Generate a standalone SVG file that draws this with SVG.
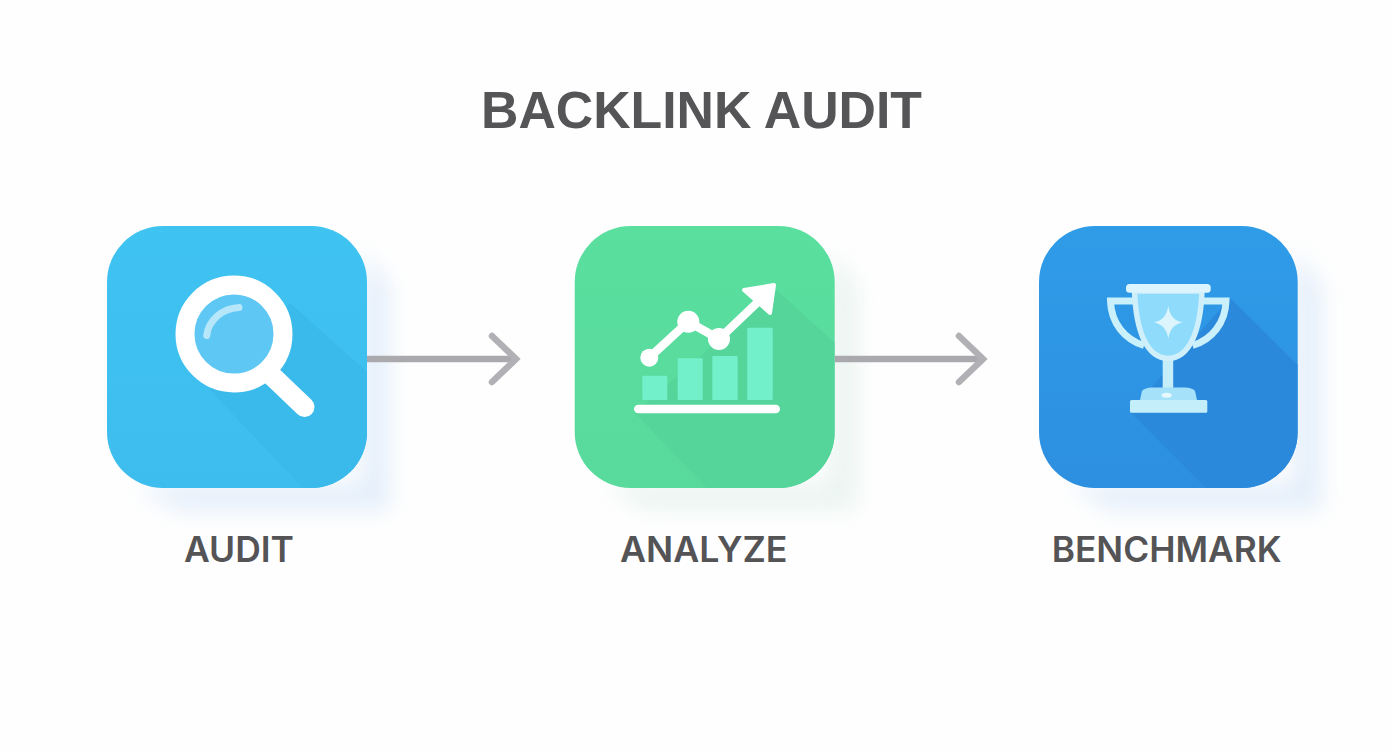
<svg xmlns="http://www.w3.org/2000/svg" width="1392" height="752" viewBox="0 0 1392 752">
<style>
.bg{fill:#fefefe}
.title{font:700 52px "Liberation Sans",Arial,sans-serif;fill:#555557}
.label{font:600 35px Inter,"Liberation Sans",Arial,sans-serif;fill:#545456}
.conn{fill:none;stroke:#aaaaae;stroke-width:6.5;marker-end:url(#chev)}
.soft{filter:url(#blur)}
.lens{fill:none;stroke:#fff;stroke-width:19}
.wh{fill:#fff}
.bar{fill:#72f0c9}
.tl{fill:none;stroke:#c9f0fb;stroke-width:7}
.tf{fill:#c5eefb}
</style>
<defs>
<filter id="blur" x="-30%" y="-30%" width="160%" height="160%"><feGaussianBlur stdDeviation="11"/></filter>
<marker id="chev" markerUnits="userSpaceOnUse" markerWidth="44" markerHeight="64" viewBox="0 0 44 64" refX="36" refY="32" orient="auto">
<path d="M11,9 L35,32 L11,55" fill="none" stroke="#b1b1b5" stroke-width="6.5" stroke-linecap="round" stroke-linejoin="miter"/>
</marker>
<path id="cast" d="M255,24 L282,60 L282,284 L70,284 L30,258 L255,258 Z"/>
<linearGradient id="g1" x1="0" y1="0" x2="0" y2="1"><stop offset="0" stop-color="#3fc3f1"/><stop offset="1" stop-color="#3dbdee"/></linearGradient>
<linearGradient id="g2" x1="0" y1="0" x2="0" y2="1"><stop offset="0" stop-color="#5adf9f"/><stop offset="1" stop-color="#58da9d"/></linearGradient>
<linearGradient id="g3" x1="0" y1="0" x2="0" y2="1"><stop offset="0" stop-color="#2f9ce8"/><stop offset="1" stop-color="#2d8fe0"/></linearGradient>
<clipPath id="c1"><rect x="107" y="226" width="260" height="262" rx="56"/></clipPath>
<clipPath id="c2"><rect x="574.7" y="226" width="260" height="262" rx="56"/></clipPath>
<clipPath id="c3"><rect x="1039" y="226" width="258.7" height="262" rx="56"/></clipPath>
</defs>
<rect class="bg" width="1392" height="752"/>
<g id="title"><text class="title" x="481" y="127.700" textLength="441" lengthAdjust="spacingAndGlyphs">BACKLINK AUDIT</text></g>
<g id="node-audit">
<use href="#cast" x="107" y="226" class="soft" fill="#c4dcf6" opacity=".45"/>
<rect x="107" y="226" width="260" height="262" rx="56" fill="url(#g1)"/>
<path clip-path="url(#c1)" d="M290,303 L367,372 V488 H303 L210,390 Z" fill="#3ab9eb"/>
<circle cx="234" cy="334" r="40" fill="#5fc7f3"/>
<path d="M206.700,335.500 C208.500,320 222,308.500 239,307.500" fill="none" stroke="#b5e6fa" stroke-width="7" stroke-linecap="round"/>
<circle class="lens" cx="234" cy="334" r="49"/>
<line x1="270" y1="374" x2="304.500" y2="407" stroke="#fff" stroke-width="20" stroke-linecap="round"/>
<text class="label" x="184" y="562.300" textLength="110" lengthAdjust="spacingAndGlyphs">AUDIT</text>
</g>
<g id="node-analyze">
<use href="#cast" x="574.700" y="226" class="soft" fill="#d3e8df" opacity=".45"/>
<rect x="574.700" y="226" width="260" height="262" rx="56" fill="url(#g2)"/>
<path clip-path="url(#c2)" d="M776.700,290 L834.700,343 V488 H706.700 L635,413 Z" fill="#55d59a"/>
<rect class="bar" x="642.300" y="375.700" width="25" height="24.300" rx="1"/>
<rect class="bar" x="677.700" y="358.300" width="25" height="41.700" rx="1"/>
<rect class="bar" x="712.300" y="356" width="25.400" height="44" rx="1"/>
<rect class="bar" x="747.300" y="327.700" width="25.400" height="72.300" rx="1"/>
<rect class="wh" x="634" y="404.700" width="146" height="8.600" rx="4.300"/>
<path d="M649.300,357.700 L688.300,321.700 L719,339 L760,300" fill="none" stroke="#fff" stroke-width="8.500"/>
<circle class="wh" cx="649.300" cy="357.700" r="9"/>
<circle class="wh" cx="688.300" cy="321.700" r="11"/>
<circle class="wh" cx="719" cy="339" r="11"/>
<path class="wh" d="M744,290 L774,285 L770,313 Z" stroke="#fff" stroke-width="4" stroke-linejoin="round"/>
<text class="label" x="620" y="562.300" textLength="167.500" lengthAdjust="spacingAndGlyphs">ANALYZE</text>
</g>
<g id="node-benchmark">
<use href="#cast" x="1039" y="226" class="soft" fill="#c4dcf6" opacity=".45"/>
<rect x="1039" y="226" width="258.700" height="262" rx="56" fill="url(#g3)"/>
<path clip-path="url(#c3)" d="M1230,298 L1297.700,365 V488 H1206 L1130,412 Z" fill="#2b89dc"/>
<path class="tl" d="M1134,301 H1110.500 C1111,323 1125,340 1144,345.500"/>
<path class="tl" d="M1202.600,301 H1226 C1225.500,323 1211.600,340 1192.600,345.500"/>
<rect class="tf" x="1162.700" y="358" width="10.500" height="32"/>
<path d="M1134.500,291 C1136,330 1146,358 1168.300,358.500 C1190,358 1200.500,330 1202,291 Z" fill="#8edbfb" stroke="#cfeffb" stroke-width="5.500"/>
<rect x="1126" y="284" width="84.700" height="8.700" rx="3.500" fill="#dbf4fd"/>
<path d="M1168.300,306 C1170,316 1174,320.500 1182.500,322.300 C1174,324.500 1170,329 1168.300,338.500 C1166.500,329 1162.500,324.500 1154,322.300 C1162.500,320.500 1166.500,316 1168.300,306 Z" fill="#dcf5fd"/>
<path d="M1140,400 L1142,391 Q1145,387.500 1152,387.500 H1185 Q1192,387.500 1195,391 L1197,400 Z" fill="#a5e2f9"/>
<ellipse cx="1166.700" cy="395.300" rx="5" ry="2.500" fill="#e8f9fe"/>
<rect class="tf" x="1130" y="400" width="77.300" height="12.700" rx="1.500"/>
<text class="label" x="1051.700" y="562.300" textLength="230" lengthAdjust="spacingAndGlyphs">BENCHMARK</text>
</g>
<g id="connectors">
<line class="conn" x1="367" y1="359" x2="517" y2="359"/>
<line class="conn" x1="834.700" y1="359" x2="984" y2="359"/>
</g>
</svg>
